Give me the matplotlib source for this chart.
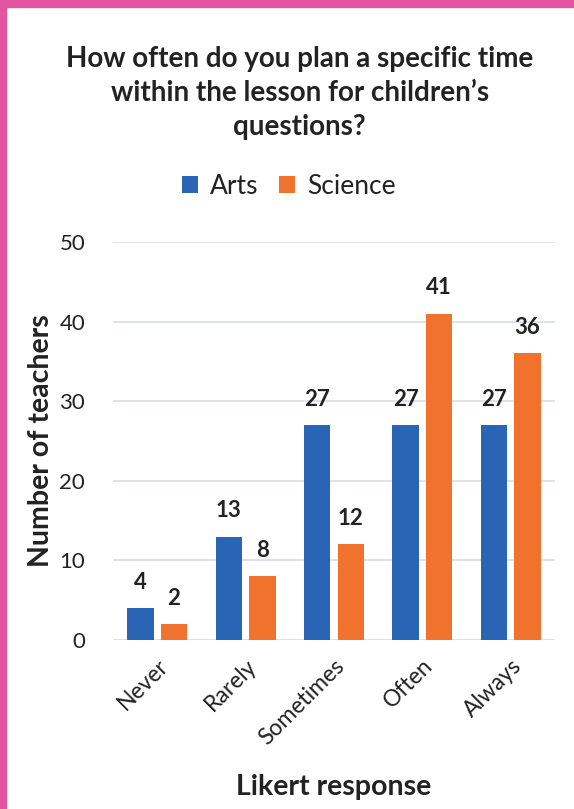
import matplotlib
matplotlib.use("Agg")
import matplotlib.pyplot as plt
import numpy as np
from matplotlib.patches import Rectangle

categories = ["Never", "Rarely", "Sometimes", "Often", "Always"]
arts = [4, 13, 27, 27, 27]
science = [2, 8, 12, 41, 36]
series_names = ["Arts", "Science"]
yticks = [0, 10, 20, 30, 40, 50]

plt.rcParams['font.family'] = ['Lato', 'DejaVu Sans']

fig = plt.figure(figsize=(5.74, 8.09), dpi=100)
W, H = 574, 809
ax = fig.add_axes([113 / W, 1 - 640 / H, (555 - 113) / W, (640 - 242) / H])

x = np.arange(len(categories))
bw = 0.3
off = 0.19
c_arts = "#2A65B5"
c_sci = "#F0722D"
b1 = ax.bar(x - off, arts, bw, color=c_arts, label=series_names[0], zorder=3)
b2 = ax.bar(x + off, science, bw, color=c_sci, label=series_names[1], zorder=3)

for bars in (b1, b2):
    for r in bars:
        ax.annotate(f"{int(r.get_height())}", (r.get_x() + r.get_width() / 2, r.get_height()),
                    xytext=(0, 11), textcoords="offset points", ha="center", va="bottom",
                    fontsize=16, fontweight="bold", color="#222222")

ax.set_ylim(0, 50)
ax.set_xlim(-0.5, 4.5)
ax.set_yticks(yticks)
ax.grid(axis="y", color="#d9dde3", linewidth=1.2, zorder=0)
for s in ax.spines.values():
    s.set_visible(False)
ax.tick_params(axis="both", length=0)
ax.tick_params(axis="y", labelsize=16, colors="#222222", pad=20)
ax.set_xticks(x)
ax.set_xticklabels(categories, rotation=45, ha="right", rotation_mode="anchor",
                   fontsize=16.5, color="#222222")
ax.tick_params(axis="x", pad=11)
ax.set_ylabel("Number of teachers", fontsize=20.5, fontweight="bold", color="#222222", labelpad=4)
ax.set_xlabel("Likert response", fontsize=20.5, fontweight="bold", color="#222222", labelpad=18)

fig.text(0.522, 1 - 93 / H, "How often do you plan a specific time\nwithin the lesson for children\u2019s\nquestions?",
         ha="center", va="center", fontsize=20, fontweight="bold", color="#222222", linespacing=1.38)

leg = fig.legend(handles=[b1, b2], labels=series_names, loc="center", bbox_to_anchor=(0.503, 1 - 186 / H),
                 ncol=2, frameon=False, fontsize=19, handlelength=0.6, handleheight=0.6,
                 columnspacing=0.8, handletextpad=0.45)
for t in leg.get_texts():
    t.set_color("#222222")

fig.patches.append(Rectangle((0, 0), 6 / W, 1, transform=fig.transFigure, color="#E0559E", zorder=10))
fig.patches.append(Rectangle((0, 1 - 7 / H), 1, 7 / H, transform=fig.transFigure, color="#E0559E", zorder=10))

fig.savefig("out.png", dpi=100)
